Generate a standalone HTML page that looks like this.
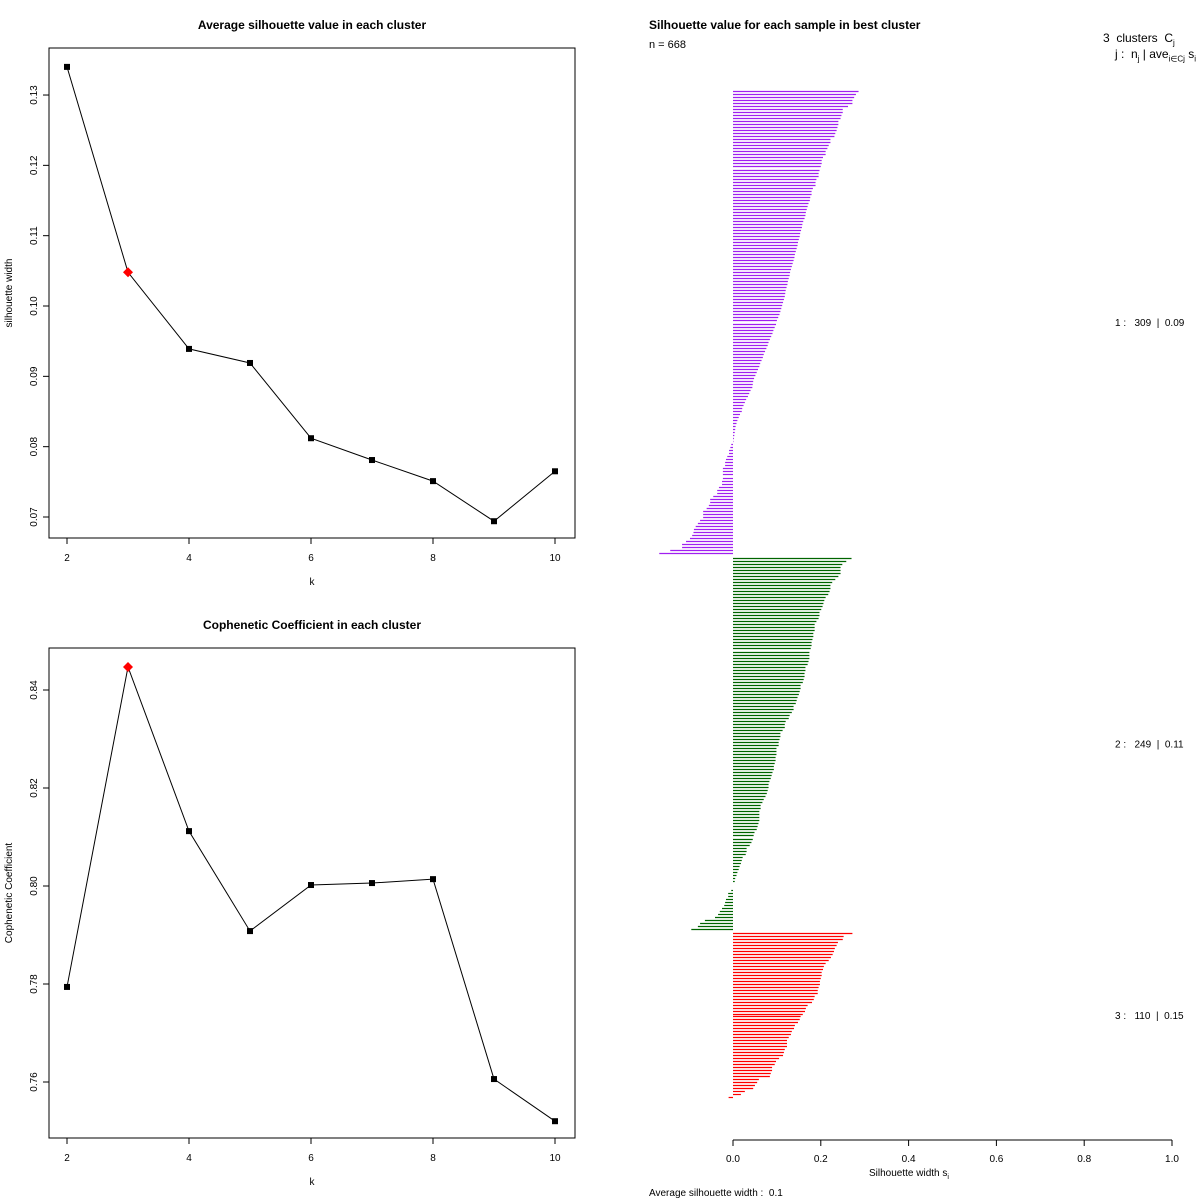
<!DOCTYPE html>
<html><head><meta charset="utf-8"><style>
html,body{margin:0;padding:0;background:#fff;}
svg{display:block;font-family:"Liberation Sans",sans-serif;}
</style></head><body>
<svg id="chart" width="1200" height="1200" viewBox="0 0 1200 1200">
<rect width="1200" height="1200" fill="#fff"/>
</svg>
<script>
// ---- data ----
const kValues = [2,3,4,5,6,7,8,9,10];
const silValues = [0.134,0.1048,0.0939,0.0919,0.0812,0.0781,0.0751,0.0694,0.0765];
const copheValues = [0.7794,0.8447,0.8112,0.7908,0.8002,0.8006,0.8014,0.7606,0.752];
const bestK = 3;
const silTicks = [0.07,0.08,0.09,0.10,0.11,0.12,0.13];
const silTickLabels = ["0.07","0.08","0.09","0.10","0.11","0.12","0.13"];
const copheTicks = [0.76,0.78,0.80,0.82,0.84];
const kTicks = [2,4,6,8,10];
const sTicks = [0,0.2,0.4,0.6,0.8,1.0];
const sTickLabels = ["0.0","0.2","0.4","0.6","0.8","1.0"];
const clusterNames = ["1","2","3"];
const clusterSizes = [309,249,110];
const clusterAvgs = ["0.09","0.11","0.15"];
const cluster1 = [.286,.28,.276,.272,.272,.262,.25,.25,.247,.245,.24,.24,.238,.236,.233,.231,.222,.222,.218,.215,.211,.211,.205,.202,.202,.2,.197,.195,.195,.19,.188,.188,.182,.179,.179,
.176,.175,.172,.17,.168,.166,.165,.163,.16,.158,.157,.155,.153,.152,.15,.148,.147,.145,.143,.141,.14,.138,.136,.134,.132,.13,.129,.127,.125,.124,.122,.12,.119,.118,
.116,.114,.112,.11,.108,.106,.103,.1,.098,.095,.092,.09,.087,.084,.081,.079,.076,.073,
.07,.068,.065,.062,.06,.057,.054,.051,.048,.046,.045,.044,.04,.037,.034,.03,.027,.024,.021,.02,.016,.013,.01,.008,.006,.005,.004,.003,.002,.001,
-.004,-.006,-.009,-.009,-.013,-.016,-.018,-.018,-.023,-.023,-.023,-.023,-.025,-.025,-.032,-.036,-.036,-.045,-.052,-.052,-.055,-.06,-.068,-.068,-.068,-.075,-.08,-.085,-.089,-.09,-.093,-.098,-.107,-.116,-.116,-.143,-.168];
const cluster2 = [.27,.258,.249,.245,.245,.245,.24,.233,.226,.222,.222,.22,.217,.211,.208,.206,.204,.201,.197,.197,.195,.19,.186,.186,.186,.183,.183,.181,.179,.179,.177,.174,.174,.174,.172,.17,.165,.165,.163,.163,.161,.159,.154,.154,.152,.15,.147,.145,.143,.138,.138,.134,.129,.127,.12,.118,.118,.113,.108,.108,.106,.104,.104,.099,.099,.099,.097,.097,.095,.093,.093,.09,.088,.086,.083,.081,.081,.079,.077,.074,.07,.067,.063,.063,.06,.06,.06,.06,.058,.056,.054,.049,.047,.045,.042,.038,.031,.031,.029,.022,.02,.018,.015,.013,
.01,.008,.005,.004,0,0,
-.004,-.011,-.011,-.016,-.018,-.02,-.025,-.03,-.034,-.041,-.064,-.075,-.08,-.095];
const cluster3 = [.272,.252,.25,.239,.236,.232,.23,.227,.223,.218,.211,.207,.205,.202,.202,.2,.198,.198,.195,.193,.193,.186,.184,.18,.17,.166,.164,.159,.154,.152,.148,.141,.139,.134,.132,.127,.123,.123,.123,.118,.116,.114,.105,.098,.095,.089,.089,.086,.084,.059,.055,.05,.046,.027,.018,-.01];
const clusters = [cluster1, cluster2, cluster3];
const clusterColors = ["#A020F0","#006400","#FF0000"];
const clusterTop = [91,558,933];
const clusterBottom = [553,929,1097];

const svg = document.getElementById('chart');
const NS = 'http://www.w3.org/2000/svg';
function mk(tag, attrs, parent){const e=document.createElementNS(NS,tag);for(const k in attrs)e.setAttribute(k,attrs[k]);(parent||svg).appendChild(e);return e;}
function txt(s, attrs, parent){const e=mk('text',attrs,parent);e.textContent=s;return e;}

function linePanel(cfg){
  const g = mk('g',{});
  
  
  const L=49,R=575,T=cfg.top,B=cfg.bottom;
  const xs = k => 67 + (k-2)*61;
  const ys = v => cfg.y0 + (v - cfg.v0) * cfg.pxPer;
  const fr = mk('rect',{x:L,y:T,width:R-L,height:B-T,fill:'none',stroke:'#000','stroke-width':1},g);
  
  
  const t = txt(cfg.title,{x:312,y:cfg.titleY,'text-anchor':'middle','font-size':12,'font-weight':'bold'},g);
  
  
  kTicks.forEach(k=>{
    mk('line',{x1:xs(k),x2:xs(k),y1:B,y2:B+6,stroke:'#000'},g);
    const l=txt(String(k),{x:xs(k),y:B+23,'text-anchor':'middle','font-size':10},g);
    
    
  });
  const xl=txt('k',{x:312,y:B+47,'text-anchor':'middle','font-size':10},g);
  
  
  cfg.ticks.forEach((v,i)=>{
    const y=ys(v);
    mk('line',{x1:L-6,x2:L,y1:y,y2:y,stroke:'#000'},g);
    const l=txt(cfg.tickLabels[i],{x:0,y:0,'text-anchor':'middle','font-size':10,transform:`translate(37,${y}) rotate(-90)`},g);
    
    
  });
  const yl=txt(cfg.ylabel,{x:0,y:0,'text-anchor':'middle','font-size':10,transform:`translate(12,${(T+B)/2}) rotate(-90)`},g);
  
  
  const pts = kValues.map((k,i)=>xs(k)+','+ys(cfg.values[i])).join(' ');
  const pl=mk('polyline',{points:pts,fill:'none',stroke:'#000','stroke-width':1},g);
  
  
  kValues.forEach((k,i)=>{
    const x=xs(k),y=ys(cfg.values[i]);
    let m;
    if(k===bestK){
      m=mk('polygon',{points:`${x},${y-5} ${x+5},${y} ${x},${y+5} ${x-5},${y}`,fill:'#f00'},g);
    } else {
      m=mk('rect',{x:x-3,y:y-3,width:6,height:6,fill:'#000'},g);
    }
    
    
  });
}
linePanel({name:'avg-silhouette-chart',top:48,bottom:538,title:'Average silhouette value in each cluster',titleY:29,
  y0:517,v0:0.07,pxPer:-7033,ticks:silTicks,tickLabels:silTickLabels,values:silValues,ylabel:'silhouette width'});
linePanel({name:'cophenetic-chart',top:648,bottom:1138,title:'Cophenetic Coefficient in each cluster',titleY:629,
  y0:1082,v0:0.76,pxPer:-4900,ticks:copheTicks,tickLabels:copheTicks.map(v=>v.toFixed(2)),values:copheValues,ylabel:'Cophenetic Coefficient'});

// ---- silhouette bar plot ----
const sg = mk('g',{});


const sx = v => 733 + v*439;
const st=txt('Silhouette value for each sample in best cluster',{x:649,y:29,'font-size':12,'font-weight':'bold'},sg);


const nl=txt('n = 668',{x:649,y:48,'font-size':11},sg);


clusters.forEach((arr,ci)=>{
  const cg=mk('g',{},sg);
  
  
  const top=clusterTop[ci], step=(clusterBottom[ci]-top)/(arr.length-1);
  arr.forEach((v,i)=>{
    const y=Math.round(top+i*step);
    if(v===0) return;
    const ln=mk('line',{x1:sx(0),x2:sx(v),y1:y+0.5,y2:y+0.5,stroke:clusterColors[ci],'stroke-width':1.2},cg);
    
    
  });
  const mid=(top+clusterBottom[ci])/2;
  const lab=txt(clusterNames[ci]+' :   '+clusterSizes[ci]+'  |  '+clusterAvgs[ci],{x:1115,y:mid+4,'font-size':10,style:'white-space:pre'},sg);
  
  
});
mk('line',{x1:sx(0),x2:sx(1),y1:1140,y2:1140,stroke:'#000'},sg);
sTicks.forEach((v,i)=>{
  mk('line',{x1:sx(v),x2:sx(v),y1:1140,y2:1146,stroke:'#000'},sg);
  const l=txt(sTickLabels[i],{x:sx(v),y:1162,'text-anchor':'middle','font-size':10},sg);
  
  
});
</script>
<div style="position:absolute;left:0;top:0;width:1200px;height:1200px;pointer-events:none;font-family:'Liberation Sans',sans-serif;">
  <div style="position:absolute;left:1103px;top:31px;font-size:12px;">3 &nbsp;clusters &nbsp;C<sub style="font-size:8px">j</sub></div>
  <div style="position:absolute;left:1115px;top:47px;font-size:12px;white-space:nowrap;">j : &nbsp;n<sub style="font-size:8px">j</sub> | ave<sub style="font-size:8px">i∈Cj</sub> s<sub style="font-size:8px">i</sub></div>
  <div style="position:absolute;left:869px;top:1168px;font-size:10px;">Silhouette width s<sub style="font-size:7px">i</sub></div>
  <div style="position:absolute;left:649px;top:1188px;font-size:10px;white-space:pre;">Average silhouette width :  0.1</div>
</div>
</body></html>
